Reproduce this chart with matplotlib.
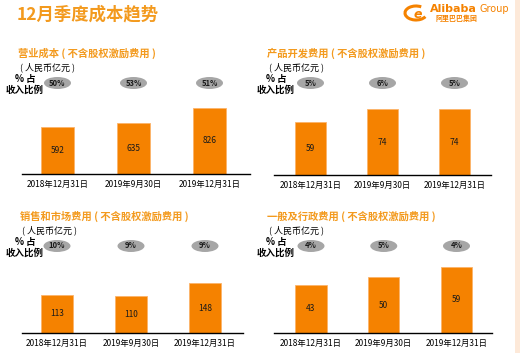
import matplotlib
matplotlib.use("Agg")
import matplotlib.pyplot as plt
from matplotlib.patches import Ellipse, Rectangle, Arc
from matplotlib.transforms import blended_transform_factory

plt.rcParams['font.family'] = ['Noto Sans CJK SC', 'DejaVu Sans']

# ---- data ----
dates = ["2018年12月31日", "2019年9月30日", "2019年12月31日"]
titles = ["营业成本 ( 不含股权激励费用 )", "产品开发费用 ( 不含股权激励费用 )",
          "销售和市场费用 ( 不含股权激励费用 )", "一般及行政费用 ( 不含股权激励费用 )"]
cost_of_revenue = [592, 635, 826]
product_dev = [59, 74, 74]
sales_marketing = [113, 110, 148]
general_admin = [43, 50, 59]
pct_cost_of_revenue = ["50%", "53%", "51%"]
pct_product_dev = ["5%", "6%", "5%"]
pct_sales_marketing = ["10%", "9%", "9%"]
pct_general_admin = ["4%", "5%", "4%"]

series = [cost_of_revenue, product_dev, sales_marketing, general_admin]
pcts = [pct_cost_of_revenue, pct_product_dev, pct_sales_marketing, pct_general_admin]

W, H = 520, 353
fig = plt.figure(figsize=(W / 100, H / 100), dpi=100)
fig.patch.set_facecolor("white")

ORANGE = "#F58200"
TITLE_OR = "#F39A1E"
GRAY = "#A6A6A6"


def fx(px):
    return px / W


def fy(py):
    return 1 - py / H


# peach strip at right edge
fig.patches.append(Rectangle((515 / W, 0), 5 / W, 1, transform=fig.transFigure,
                             facecolor="#FDE9D9", edgecolor="none", zorder=0))

# main title
fig.text(fx(17), fy(14), "12月季度成本趋势", color=TITLE_OR, fontsize=12.5,
         fontweight="bold", va="center", ha="left")

# logo
fig.text(fx(430), fy(9), "Alibaba", color=ORANGE, fontsize=8, fontweight="bold",
         va="center", ha="left", family="DejaVu Sans")
fig.text(fx(479), fy(9), "Group", color=ORANGE, fontsize=7, va="center", ha="left",
         family="DejaVu Sans")
fig.text(fx(435), fy(18), "阿里巴巴集团", color=ORANGE, fontsize=5, fontweight="bold",
         va="center", ha="left")
fig.patches.append(Arc((fx(416), fy(13)), 22 / W, 14 / H, theta1=60, theta2=330,
                       transform=fig.transFigure, color=ORANGE, lw=2.2))
fig.text(fx(418), fy(14), "e", color=ORANGE, fontsize=9, fontweight="bold",
         va="center", ha="center", family="DejaVu Sans", style="italic")

# panel layout: (axis_left, axis_right, baseline_y, px_per_unit, first_center, spacing, title_y)
panels = [
    (22, 250, 174, 0.080, 57.5, 76.0, 53),
    (274, 491, 175, 0.890, 310.5, 72.0, 53),
    (22, 243, 333, 0.337, 57.0, 74.0, 216),
    (274, 492, 333, 1.120, 311.0, 72.75, 216),
]
label_cx = [25, 276, 25, 276]
title_x = [18, 267, 20, 267]

for i, (xl, xr, base, ppu, c0, sp, ty) in enumerate(panels):
    ax_h = 80
    ax = fig.add_axes([fx(xl), fy(base), (xr - xl) / W, ax_h / H])
    ax.set_xlim(-(c0 - xl) / sp, (xr - xl - (c0 - xl)) / sp)
    ax.set_ylim(0, ax_h / ppu)
    x = list(range(len(dates)))
    ax.bar(x, series[i], width=0.43, color=ORANGE, edgecolor="#FCB46A",
           linewidth=0.6, zorder=2)
    for xi, v in zip(x, series[i]):
        ax.text(xi, v / 2, str(v), ha="center", va="center", fontsize=6,
                color="#1A1A1A", zorder=3)
    for s in ["top", "right", "left"]:
        ax.spines[s].set_visible(False)
    ax.spines["bottom"].set_color("black")
    ax.spines["bottom"].set_linewidth(1.0)
    ax.set_yticks([])
    ax.set_xticks(x)
    ax.set_xticklabels(dates, fontsize=6, color="black")
    ax.tick_params(axis="x", length=0, pad=4)
    ax.patch.set_alpha(0)

    # title and unit
    fig.text(fx(title_x[i]), fy(ty), titles[i], color=TITLE_OR, fontsize=7.4,
             fontweight="bold", va="center", ha="left")
    fig.text(fx(title_x[i] + 2), fy(ty + 14), "( 人民币亿元 )", color="black",
             fontsize=6.5, va="center", ha="left")
    cx = label_cx[i]
    fig.text(fx(cx), fy(ty + 26), "% 占", color="black", fontsize=6.8,
             fontweight="bold", va="center", ha="center")
    fig.text(fx(cx), fy(ty + 37), "收入比例", color="black", fontsize=6.8,
             fontweight="bold", va="center", ha="center")

    # ellipses with percentages
    trans = blended_transform_factory(ax.transData, fig.transFigure)
    ey = fy(ty + 30)
    for xi, p in zip(x, pcts[i]):
        e = Ellipse((xi, ey), 27 / sp, 12 / H, transform=trans, facecolor=GRAY,
                    edgecolor="none", clip_on=False, zorder=4)
        ax.add_patch(e)
        ax.text(xi, ey, p, transform=trans, ha="center", va="center",
                fontsize=5.5, fontweight="bold", color="#1A1A1A",
                clip_on=False, zorder=5)

fig.savefig("out.png", dpi=100)
